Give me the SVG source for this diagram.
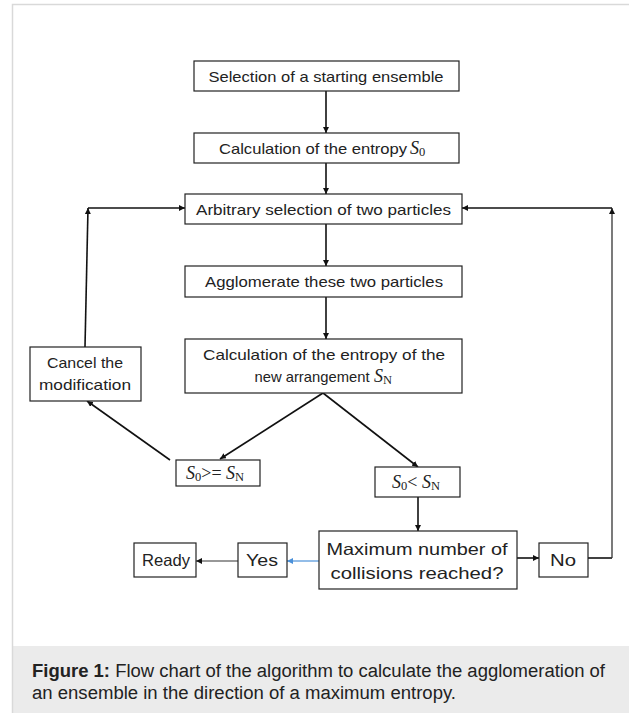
<svg xmlns="http://www.w3.org/2000/svg" width="629" height="713" viewBox="0 0 629 713">
<defs>
<style>
.box{fill:#fff;stroke:#222;stroke-width:1.2}
.t{font-family:"Liberation Sans",Arial,sans-serif;font-size:15px;fill:#222;text-anchor:middle}
.t2{font-family:"Liberation Sans",Arial,sans-serif;font-size:16.5px;fill:#222;text-anchor:middle}
.m{font-family:"Liberation Serif","Times New Roman",serif;font-size:18px;fill:#222}
.mi{font-style:italic}
.sub{font-size:12.5px}
.c{fill:none;stroke:#111;stroke-width:1.6}
.cap{font-family:"Liberation Sans",Arial,sans-serif;font-size:18px;fill:#222}
</style>
<marker id="ah" viewBox="0 0 10 10" refX="10" refY="5" markerWidth="6" markerHeight="6" markerUnits="userSpaceOnUse" orient="auto">
<path d="M0,0 L10,5 L0,10 z" fill="#111"/>
</marker>
<marker id="ahb" viewBox="0 0 10 10" refX="10" refY="5" markerWidth="6" markerHeight="6" markerUnits="userSpaceOnUse" orient="auto">
<path d="M0,0 L10,5 L0,10 z" fill="#4a90d9"/>
</marker>
</defs>
<rect x="0" y="0" width="629" height="713" fill="#fff"/>
<rect x="13" y="646" width="616" height="67" fill="#ebebeb"/>
<path d="M12.5,713 V4.5 H629" fill="none" stroke="#d9d9d9" stroke-width="1.5"/>

<g id="connectors">
<line class="c" x1="326" y1="91" x2="326" y2="133" marker-end="url(#ah)"/>
<line class="c" x1="326" y1="163" x2="326" y2="194" marker-end="url(#ah)"/>
<line class="c" x1="326" y1="224" x2="326" y2="266" marker-end="url(#ah)"/>
<line class="c" x1="326" y1="297" x2="326" y2="339" marker-end="url(#ah)"/>
<line class="c" x1="323" y1="393" x2="220" y2="459" marker-end="url(#ah)"/>
<line class="c" x1="323" y1="393" x2="418" y2="467" marker-end="url(#ah)"/>
<line class="c" x1="170" y1="460" x2="87" y2="401" marker-end="url(#ah)"/>
<line class="c" x1="85" y1="347" x2="88" y2="208" marker-end="url(#ah)"/>
<line class="c" x1="88" y1="208" x2="185" y2="208" marker-end="url(#ah)"/>
<line class="c" x1="418" y1="497" x2="418" y2="531" marker-end="url(#ah)"/>
<line x1="319" y1="561" x2="287" y2="561" stroke="#4a90d9" stroke-width="1.2" marker-end="url(#ahb)"/>
<line x1="238" y1="561" x2="196" y2="561" stroke="#333" stroke-width="1.2" marker-end="url(#ah)"/>
<line class="c" x1="517" y1="558" x2="539" y2="558" marker-end="url(#ah)"/>
<line class="c" x1="588" y1="558" x2="612" y2="558"/>
<line x1="612" y1="558" x2="612" y2="208" stroke="#333" stroke-width="1.3" marker-end="url(#ah)"/>
<line class="c" x1="612" y1="208" x2="462" y2="208" marker-end="url(#ah)"/>
</g>

<g id="n1">
<rect class="box" x="194" y="61" width="265" height="30"/>
<text class="t" x="326" y="82" textLength="235" lengthAdjust="spacingAndGlyphs">Selection of a starting ensemble</text>
</g>
<g id="n2">
<rect class="box" x="194" y="133" width="265" height="30"/>
<text class="t" x="313" y="154" textLength="188" lengthAdjust="spacingAndGlyphs">Calculation of the entropy</text>
<text class="m" x="410" y="154"><tspan class="mi">S</tspan><tspan class="sub" dy="2">0</tspan></text>
</g>
<g id="n3">
<rect class="box" x="185" y="194" width="277" height="30"/>
<text class="t" x="323.5" y="215" textLength="255" lengthAdjust="spacingAndGlyphs">Arbitrary selection of two particles</text>
</g>
<g id="n4">
<rect class="box" x="185" y="266" width="277" height="31"/>
<text class="t" x="324" y="287" textLength="238" lengthAdjust="spacingAndGlyphs">Agglomerate these two particles</text>
</g>
<g id="n5">
<rect class="box" x="185" y="339" width="277" height="54"/>
<text class="t" x="324" y="360" textLength="242" lengthAdjust="spacingAndGlyphs">Calculation of the entropy of the</text>
<text class="t" x="312" y="382" textLength="115" lengthAdjust="spacingAndGlyphs">new arrangement</text>
<text class="m" x="374" y="382"><tspan class="mi">S</tspan><tspan class="sub" dy="2">N</tspan></text>
</g>
<g id="n6">
<rect class="box" x="30" y="347" width="111" height="54"/>
<text class="t" x="85" y="368" textLength="76" lengthAdjust="spacingAndGlyphs">Cancel the</text>
<text class="t" x="85" y="390" textLength="92" lengthAdjust="spacingAndGlyphs">modification</text>
</g>
<g id="n7">
<rect class="box" x="176" y="460" width="84" height="26"/>
<text class="m" x="186" y="479"><tspan class="mi">S</tspan><tspan class="sub" dy="2">0</tspan><tspan dy="-2">&gt;= </tspan><tspan class="mi">S</tspan><tspan class="sub" dy="2">N</tspan></text>
</g>
<g id="n8">
<rect class="box" x="375" y="467" width="85" height="30"/>
<text class="m" x="392" y="488"><tspan class="mi">S</tspan><tspan class="sub" dy="2">0</tspan><tspan dy="-2">&lt; </tspan><tspan class="mi">S</tspan><tspan class="sub" dy="2">N</tspan></text>
</g>
<g id="n9">
<rect class="box" x="319" y="531" width="198" height="58"/>
<text class="t2" x="417" y="555" textLength="181" lengthAdjust="spacingAndGlyphs">Maximum number of</text>
<text class="t2" x="417" y="579" textLength="173" lengthAdjust="spacingAndGlyphs">collisions reached?</text>
</g>
<g id="n10">
<rect class="box" x="238" y="543" width="49" height="34"/>
<text class="t2" x="262" y="566" textLength="32" lengthAdjust="spacingAndGlyphs">Yes</text>
</g>
<g id="n11">
<rect class="box" x="134" y="543" width="62" height="34"/>
<text class="t2" x="166" y="566" textLength="48" lengthAdjust="spacingAndGlyphs">Ready</text>
</g>
<g id="n12">
<rect class="box" x="539" y="543" width="49" height="34"/>
<text class="t2" x="563" y="566" textLength="26" lengthAdjust="spacingAndGlyphs">No</text>
</g>

<text class="cap" x="32" y="677" textLength="573" lengthAdjust="spacingAndGlyphs"><tspan font-weight="bold">Figure 1:</tspan> Flow chart of the algorithm to calculate the agglomeration of</text>
<text class="cap" x="32" y="699" textLength="424" lengthAdjust="spacingAndGlyphs">an ensemble in the direction of a maximum entropy.</text>
</svg>
